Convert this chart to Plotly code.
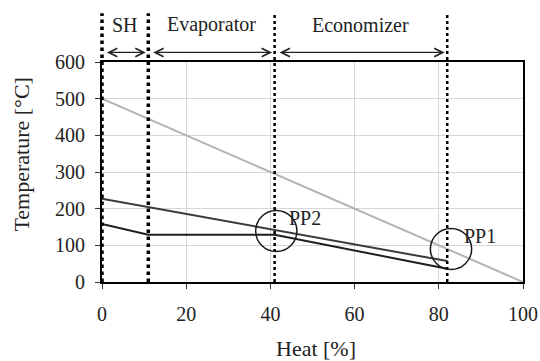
import plotly.graph_objects as go

# Data
heat_hot = [0, 100]
temp_hot = [500, 0]
heat_flue = [0, 82]
temp_flue = [227, 57]
heat_water = [0, 11, 41, 82]
temp_water = [158, 129, 129, 36]

section_bounds = [0, 11, 41, 82]
section_names = ["SH", "Evaporator", "Economizer"]
pinch_names = ["PP2", "PP1"]
pinch_heat = [41.4, 82.9]
pinch_temp = [139, 90]

x_ticks = [0, 20, 40, 60, 80, 100]
y_ticks = [0, 100, 200, 300, 400, 500, 600]
XR = [0, 100]
YR = [0, 600]

FONT = "serif"
TXT = "#222222"

fig = go.Figure()
fig.add_trace(go.Scatter(x=heat_hot, y=temp_hot, mode="lines",
                         line=dict(color="#b3b3b3", width=2), showlegend=False))
fig.add_trace(go.Scatter(x=heat_flue, y=temp_flue, mode="lines",
                         line=dict(color="#3a3a3a", width=2), showlegend=False))
fig.add_trace(go.Scatter(x=heat_water, y=temp_water, mode="lines",
                         line=dict(color="#1e1e1e", width=2), showlegend=False))

def px(v):
    return (v - XR[0]) / (XR[1] - XR[0])

def py(v):
    return (v - YR[0]) / (YR[1] - YR[0])

# vertical dotted boundary lines
for i, b in enumerate(section_bounds):
    w = 3.5 if i < 2 else 2.5
    fig.add_shape(type="line", xref="paper", yref="paper",
                  x0=px(b), x1=px(b), y0=0, y1=py(733),
                  line=dict(color="black", width=w, dash="dot"), layer="above")

# double arrows and section labels
for i, name in enumerate(section_names):
    a, b = section_bounds[i], section_bounds[i + 1]
    fig.add_annotation(xref="x domain", yref="y domain", axref="x domain", ayref="y domain",
                       x=px(b) - 0.006, y=py(626), ax=px(a) + 0.008, ay=py(626),
                       showarrow=True, arrowhead=5, arrowside="end+start",
                       arrowsize=1.3, arrowwidth=1.3, arrowcolor="#222", text="")
    fig.add_annotation(xref="paper", yref="paper", x=px((a + b) / 2), y=py(701),
                       xanchor="center", yanchor="middle",
                       text=name, showarrow=False,
                       font=dict(family=FONT, size=20, color=TXT))

# pinch point circles + labels
rx, ry = 4.9, 56
for name, hx, ty in zip(pinch_names, pinch_heat, pinch_temp):
    fig.add_shape(type="circle", xref="x", yref="y",
                  x0=hx - rx, x1=hx + rx, y0=ty - ry, y1=ty + ry,
                  line=dict(color="#1a1a1a", width=1.5), layer="above")
    fig.add_annotation(x=hx + rx - 2.3, y=ty + ry - 20, xref="x", yref="y",
                       text=name, showarrow=False, xanchor="left", yanchor="middle",
                       font=dict(family=FONT, size=20, color=TXT))

# axis titles
fig.add_annotation(xref="paper", yref="paper", x=0.508, y=-0.30,
                   xanchor="center", yanchor="middle", showarrow=False,
                   text="Heat [%]", font=dict(family=FONT, size=22, color=TXT))
fig.add_annotation(xref="paper", yref="paper", x=-0.192, y=0.58,
                   xanchor="center", yanchor="middle", showarrow=False, textangle=-90,
                   text="Temperature [°C]", font=dict(family=FONT, size=22, color=TXT))

fig.update_layout(
    width=540, height=361,
    margin=dict(l=102, r=17, t=62, b=79, autoexpand=False),
    plot_bgcolor="white", paper_bgcolor="white",
    font=dict(family=FONT, size=20, color=TXT),
)
fig.update_xaxes(range=XR, tickvals=x_ticks, showgrid=True, gridcolor="#d6d6d6",
                 gridwidth=1, zeroline=False, showline=True, linecolor="black",
                 linewidth=2, mirror=True, ticks="outside", ticklen=5, automargin=False,
                 tickcolor="#333", ticklabelstandoff=8)
fig.update_yaxes(range=YR, tickvals=y_ticks, showgrid=True, gridcolor="#d6d6d6",
                 gridwidth=1, zeroline=False, showline=True, linecolor="black",
                 linewidth=2, mirror=True, ticks="outside", ticklen=5, automargin=False,
                 tickcolor="#333", ticklabelstandoff=6)

fig.write_html("out.html")
